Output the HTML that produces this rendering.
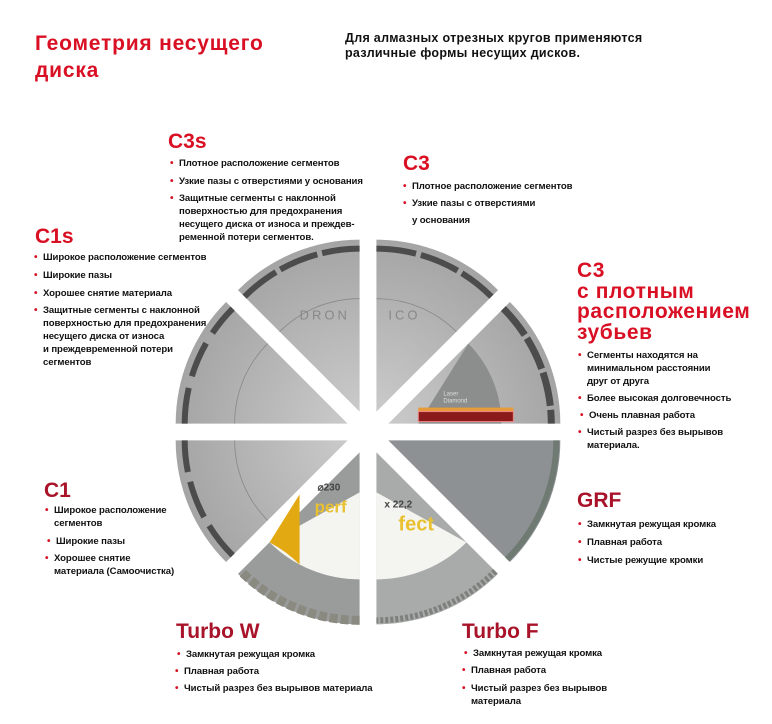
<!DOCTYPE html>
<html><head><meta charset="utf-8"><style>
body{margin:0;width:772px;height:724px;background:#fff;position:relative;overflow:hidden;font-family:"Liberation Sans","DejaVu Sans",sans-serif}
.a{position:absolute;white-space:nowrap}
.h{color:#d90f23;font-weight:bold;font-size:21px;line-height:22px}
.t{font-size:9.6px;line-height:13px;color:#111;font-weight:bold;letter-spacing:-0.1px}
.t b{position:absolute;left:-9px;color:#d90f23;font-size:10px}
.d{color:#a8132a}
</style></head><body>
<div class="a h" style="left:35px;top:30px;font-size:21px;line-height:27px;letter-spacing:0.8px">Геометрия несущего<br>диска</div>
<div class="a t" style="left:345px;top:31px;font-size:12.5px;line-height:15px;letter-spacing:0.3px;color:#111">Для алмазных отрезных кругов применяются<br>различные формы несущих дисков.</div>

<svg class="a" style="left:0;top:0" width="772" height="724">
<defs>
<radialGradient id="g1" cx="0" cy="0" r="1" gradientUnits="userSpaceOnUse" gradientTransform="scale(175)"><stop offset="0" stop-color="#cacaca"/><stop offset="1" stop-color="#a4a4a4"/></radialGradient>
</defs>
<g transform="translate(368,432)">
<g transform="rotate(22.5) translate(22,0) rotate(-22.5)">
<path d="M0,0 L172,0 A172,172 0 0 1 121.6,121.6 Z" fill="#8e9194"/>
<path d="M168,0 A168,168 0 0 1 118.8,118.8" fill="none" stroke="#6f7a72" stroke-width="6"/>
</g>
<g transform="rotate(67.5) translate(22,0) rotate(-67.5)">
<path d="M0,0 L121.6,121.6 A172,172 0 0 1 0,172 Z" fill="#a9aaaa"/>
<path d="M90,90 A127,127 0 0 1 0,127 L0,40 Z" fill="#f4f4f0"/>
<path d="M118.8,118.8 A168,168 0 0 1 0,168" fill="none" stroke="#7d807c" stroke-width="6" stroke-dasharray="3 2"/>
<text x="22" y="78" font-size="20" font-weight="bold" fill="#e8c030" font-family="Liberation Sans">fect</text>
<text x="8" y="55" font-size="10" font-weight="bold" fill="#444" font-family="Liberation Sans">x 22,2</text>
</g>
<g transform="rotate(112.5) translate(22,0) rotate(-112.5)">
<path d="M0,0 L0,172 A172,172 0 0 1 -121.6,121.6 Z" fill="#9a9b9b"/>
<path d="M0,127 A127,127 0 0 1 -90,90 L0,40 Z" fill="#f4f4f0"/>
<path d="M-60,42 L-90,90 A127,127 0 0 1 -60,112 Z" fill="#e3a912"/>
<path d="M0,168 A168,168 0 0 1 -118.8,118.8" fill="none" stroke="#8a8a80" stroke-width="9" stroke-dasharray="8 3"/>
<text x="-45" y="60" font-size="17" font-weight="bold" fill="#e8c030" font-family="Liberation Sans">perf</text>
<text x="-42" y="38" font-size="10" font-weight="bold" fill="#444" font-family="Liberation Sans">⌀230</text>
</g>
<g transform="rotate(157.5) translate(22,0) rotate(-157.5)">
<path d="M0,0 L-121.6,121.6 A172,172 0 0 1 -172,0 Z" fill="url(#g1)"/>
<path d="M-115,115 A163,163 0 0 1 -163,0" fill="none" stroke="#4c4c4c" stroke-width="6" stroke-dasharray="38 10"/>
<path d="M-80,80 A113,113 0 0 1 -113,0" fill="none" stroke="#888" stroke-width="0.8"/>
</g>
<g transform="rotate(202.5) translate(22,0) rotate(-202.5)">
<path d="M0,0 L-172,0 A172,172 0 0 1 -121.6,-121.6 Z" fill="url(#g1)"/>
<path d="M-163,0 A163,163 0 0 1 -115,-115" fill="none" stroke="#4c4c4c" stroke-width="6" stroke-dasharray="36 12"/>
<path d="M-113,0 A113,113 0 0 1 -80,-80" fill="none" stroke="#888" stroke-width="0.8"/>
</g>
<g transform="rotate(247.5) translate(22,0) rotate(-247.5)">
<path d="M0,0 L-121.6,-121.6 A172,172 0 0 1 0,-172 Z" fill="url(#g1)"/>
<path d="M-115,-115 A163,163 0 0 1 0,-163" fill="none" stroke="#4c4c4c" stroke-width="6" stroke-dasharray="40 5"/>
<path d="M-80,-80 A113,113 0 0 1 0,-113" fill="none" stroke="#888" stroke-width="0.8"/>
<text x="-60" y="-92" font-size="13" fill="#888" font-family="Liberation Sans" letter-spacing="3">DRON</text>
</g>
<g transform="rotate(292.5) translate(22,0) rotate(-292.5)">
<path d="M0,0 L0,-172 A172,172 0 0 1 121.6,-121.6 Z" fill="url(#g1)"/>
<path d="M0,-163 A163,163 0 0 1 115,-115" fill="none" stroke="#4c4c4c" stroke-width="6" stroke-dasharray="40 5"/>
<path d="M0,-113 A113,113 0 0 1 80,-80" fill="none" stroke="#888" stroke-width="0.8"/>
<text x="12" y="-92" font-size="13" fill="#888" font-family="Liberation Sans" letter-spacing="3">ICO</text>
</g>
<g transform="rotate(337.5) translate(22,0) rotate(-337.5)">
<path d="M0,0 L121.6,-121.6 A172,172 0 0 1 172,0 Z" fill="url(#g1)"/>
<path d="M80,-80 A113,113 0 0 1 113,0 L30,0 Z" fill="#8c8e8e"/>
<rect x="30" y="-16" width="95" height="12" fill="#e99a3a"/>
<rect x="30" y="-12" width="95" height="10" fill="#8b1a1a" stroke="#e88" stroke-width="1"/>
<text x="55" y="-28" font-size="6" fill="#ddd" font-family="Liberation Sans">Laser</text>
<text x="55" y="-21" font-size="6" fill="#ddd" font-family="Liberation Sans">Diamond</text>
<path d="M115,-115 A163,163 0 0 1 163,0" fill="none" stroke="#4c4c4c" stroke-width="7" stroke-dasharray="34 4"/>
</g>
<circle r="12" fill="#fff"/>
</g>
</svg>

<div class="a h" style="left:168px;top:131px">C3s</div>
<div class="a t" style="left:179px;top:157px"><b>•</b>Плотное расположение сегментов</div>
<div class="a t" style="left:179px;top:175px"><b>•</b>Узкие пазы с отверстиями у основания</div>
<div class="a t" style="left:179px;top:192px"><b>•</b>Защитные сегменты с наклонной<br>поверхностью для предохранения<br>несущего диска от износа и преждев-<br>ременной потери сегментов.</div>

<div class="a h" style="left:35px;top:226px">C1s</div>
<div class="a t" style="left:43px;top:251px"><b>•</b>Широкое расположение сегментов</div>
<div class="a t" style="left:43px;top:269px"><b>•</b>Широкие пазы</div>
<div class="a t" style="left:43px;top:287px"><b>•</b>Хорошее снятие материала</div>
<div class="a t" style="left:43px;top:304px"><b>•</b>Защитные сегменты с наклонной<br>поверхностью для предохранения<br>несущего диска от износа<br>и преждевременной потери<br>сегментов</div>

<div class="a h" style="left:403px;top:153px">C3</div>
<div class="a t" style="left:412px;top:180px"><b>•</b>Плотное расположение сегментов</div>
<div class="a t" style="left:412px;top:197px"><b>•</b>Узкие пазы с отверстиями</div>
<div class="a t" style="left:412px;top:214px">у основания</div>

<div class="a h" style="left:577px;top:261px;line-height:20.5px;letter-spacing:0.6px">C3<br>с плотным<br>расположением<br>зубьев</div>
<div class="a t" style="left:587px;top:349px"><b>•</b>Сегменты находятся на<br>минимальном расстоянии<br>друг от друга</div>
<div class="a t" style="left:587px;top:392px"><b>•</b>Более высокая долговечность</div>
<div class="a t" style="left:589px;top:409px"><b>•</b>Очень плавная работа</div>
<div class="a t" style="left:587px;top:426px"><b>•</b>Чистый разрез без вырывов<br>материала.</div>

<div class="a h d" style="left:44px;top:480px">C1</div>
<div class="a t" style="left:54px;top:504px"><b>•</b>Широкое расположение<br>сегментов</div>
<div class="a t" style="left:56px;top:535px"><b>•</b>Широкие пазы</div>
<div class="a t" style="left:54px;top:552px"><b>•</b>Хорошее снятие<br>материала (Самоочистка)</div>

<div class="a h d" style="left:577px;top:490px">GRF</div>
<div class="a t" style="left:587px;top:518px"><b>•</b>Замкнутая режущая кромка</div>
<div class="a t" style="left:587px;top:536px"><b>•</b>Плавная работа</div>
<div class="a t" style="left:587px;top:554px"><b>•</b>Чистые режущие кромки</div>

<div class="a h d" style="left:176px;top:621px">Turbo W</div>
<div class="a t" style="left:186px;top:648px"><b>•</b>Замкнутая режущая кромка</div>
<div class="a t" style="left:184px;top:665px"><b>•</b>Плавная работа</div>
<div class="a t" style="left:184px;top:682px"><b>•</b>Чистый разрез без вырывов материала</div>

<div class="a h d" style="left:462px;top:621px">Turbo F</div>
<div class="a t" style="left:473px;top:647px"><b>•</b>Замкнутая режущая кромка</div>
<div class="a t" style="left:471px;top:664px"><b>•</b>Плавная работа</div>
<div class="a t" style="left:471px;top:682px"><b>•</b>Чистый разрез без вырывов<br>материала</div>
</body></html>
